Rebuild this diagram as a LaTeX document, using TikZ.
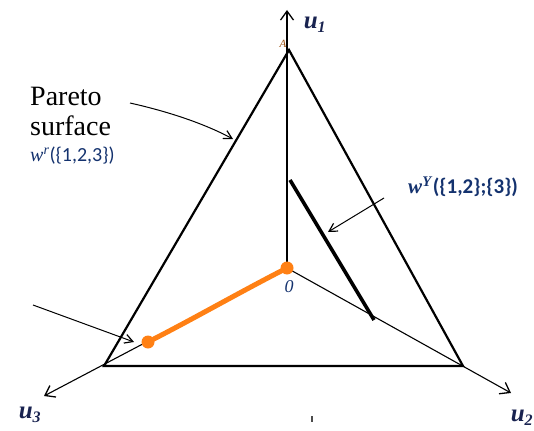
\documentclass[tikz,border=0pt]{standalone}
\usepackage{fontspec}
\setmainfont{Liberation Serif}
\newfontfamily\calib{Carlito}
\newfontfamily\parfont{Liberation Serif}
\usetikzlibrary{arrows.meta}
\definecolor{lblue}{RGB}{25,35,80}
\definecolor{wblue}{RGB}{20,50,110}
\definecolor{orng}{RGB}{255,128,20}
\tikzset{
  axis/.style={line width=1.1pt,-{Straight Barb[length=9pt,width=13pt,line width=1.3pt]}},
  tri/.style={line width=2.2pt,line join=miter},
  pointer/.style={line width=1pt,-{Straight Barb[length=8pt,width=9pt,line width=1.2pt]}},
  ulab/.style={font=\fontsize{25}{25}\selectfont\bfseries\itshape,text=lblue,inner sep=0pt},
  dot/.style={circle,fill=orng,inner sep=0pt,minimum size=13pt}
}
\begin{document}
\begin{tikzpicture}[x=1pt,y=-1pt]
\useasboundingbox (0,0) rectangle (534,430);
% coordinates
\coordinate (O) at (287,268);
\coordinate (A) at (289,50);
\coordinate (BL) at (104,366);
\coordinate (BR) at (463,366);
\coordinate (U1) at (287,10);
\coordinate (U3) at (44,396);
\coordinate (U2) at (511,393);
% axes
\draw[axis] (O) -- (U1);
\draw[axis] (O) -- (U3);
\draw[axis] (O) -- (U2);
% triangle
\draw[tri] (A) -- (BL) -- (BR) -- cycle;
% thick black segment
\coordinate (S1) at (290,180);
\coordinate (S2) at (374,320);
\draw[line width=3.6pt] (S1) -- (S2);
% orange segment
\coordinate (P1) at (148,342);
\draw[orng,line width=5pt,line cap=round] (P1) .. controls (195,318) and (240,292) .. (O);
\node[dot] (d1) at (P1) {};
\node[dot] (d2) at (O) {};
% labels
\node[ulab] (l1) at (315,25) {u\textsubscript{\fontsize{16}{16}\selectfont 1}};
\node[ulab] (l3) at (30,415) {u\textsubscript{\fontsize{16}{16}\selectfont 3}};
\node[ulab] (l2) at (522,418) {u\textsubscript{\fontsize{16}{16}\selectfont 2}};
\node[font=\fontsize{18}{18}\selectfont\itshape,text=wblue,inner sep=0pt] (zero) at (289,287) {0};
\node[font=\fontsize{11}{11}\selectfont\itshape,text=orng!60!black,inner sep=0pt] (alab) at (283,44) {A};
\node[align=left,anchor=north west,inner sep=0pt,font=\parfont\fontsize{28}{30}\selectfont] (par) at (30,87) {Pareto\\surface};
\node[anchor=north west,inner sep=0pt,font=\fontsize{20}{20}\selectfont,text=wblue] (wr) at (30,147) {\textit{w}\textsuperscript{\textit{r}}{\calib(\{1,2,3\})}};
\node[anchor=west,inner sep=0pt,font=\fontsize{21}{21}\selectfont,text=wblue] (wy) at (408,187) {\textit{\textbf{w}}\textsuperscript{\textbf{\textit{Y}}}{\calib\bfseries(\{1,2\};\{3\})}};
% pointers
\coordinate (p1s) at (130,103);
\coordinate (p1e) at (233,139);
\draw[pointer] (p1s) .. controls (170,112) and (205,124) .. (p1e);
\coordinate (p2s) at (384,198);
\coordinate (p2e) at (328,232);
\draw[pointer] (p2s) -- (p2e);
\coordinate (p3s) at (33,305);
\coordinate (p3e) at (134,342);
\draw[pointer] (p3s) -- (p3e);
% small mark
\coordinate (m1) at (312,416);
\coordinate (m2) at (312,422);
\draw[line width=1.3pt,black!70] (m1) -- (m2);
\end{tikzpicture}
\end{document}
